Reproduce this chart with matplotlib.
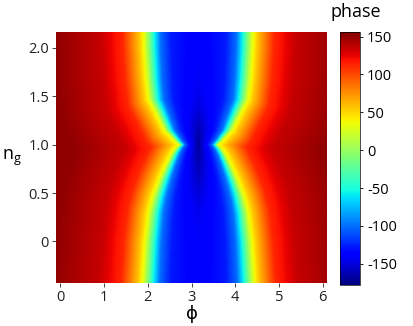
import numpy as np
import matplotlib
matplotlib.use("Agg")
import matplotlib.pyplot as plt

plt.rcParams["font.family"] = ["Open Sans", "DejaVu Sans"]

# --- values ---
# n_g rows where the yellow (phase ~ 30) boundaries were read
NG_ROWS = [-0.43, 0.0, 0.3, 0.46, 0.64, 0.79, 0.9, 0.96, 1.0, 1.04, 1.1, 1.15, 1.26, 1.36, 1.47, 1.7, 2.0, 2.165]
LEFT_EDGE = [1.89, 1.95, 2.03, 2.12, 2.27, 2.42, 2.54, 2.63, 2.72, 2.62, 2.50, 2.39, 2.27, 2.16, 2.03, 1.97, 1.93, 1.92]
RIGHT_EDGE = [4.43, 4.37, 4.29, 4.20, 4.05, 3.90, 3.78, 3.69, 3.60, 3.70, 3.82, 3.93, 4.05, 4.16, 4.29, 4.35, 4.39, 4.40]
CENTER_PHASE = [-141, -142, -145, -150, -157, -163, -167, -169, -170, -169, -166, -163, -157, -151, -147, -143, -141, -140]

# phase outside the boundary (red side) vs distance in pixels
OUTER_D = [0, 5, 11, 22, 44, 88]
OUTER_PHASE = [31, 55, 75, 112, 135, 150]
# inside (blue side), as fraction of the half width (1 = middle)
INNER_U = [0.0, 0.08, 0.18, 0.3, 0.5, 1.0]
INNER_PHASE = [31, -5, -53, -100, -128]

PHI_LIM = (-0.1, 6.1)
NG_LIM = (-0.43, 2.165)
VMIN, VMAX = -178, 156

X_TICKS = [0, 1, 2, 3, 4, 5, 6]
Y_TICKS = [0, 0.5, 1.0, 1.5, 2.0]
Y_TICK_LABELS = ["0", "0.5", "1.0", "1.5", "2.0"]
CB_TICKS = [-150, -100, -50, 0, 50, 100, 150]

# --- build the map ---
KX, KY = 44.0, 96.7  # pixels per unit of phi / n_g in the picture
phi = np.linspace(PHI_LIM[0], PHI_LIM[1], 520)
ng = np.linspace(NG_LIM[0], NG_LIM[1], 420)
Ls = np.interp(ng, NG_ROWS, LEFT_EDGE)
Rs = np.interp(ng, NG_ROWS, RIGHT_EDGE)
Cs = np.interp(ng, NG_ROWS, CENTER_PHASE)

Z = np.zeros((len(ng), len(phi)))
for i, g in enumerate(ng):
    L, R, C = Ls[i], Rs[i], Cs[i]
    half = (R - L) / 2
    mid = (L + R) / 2
    dy2 = ((g - ng) * KY) ** 2
    dl = np.sqrt(((phi[:, None] - Ls[None, :]) * KX) ** 2 + dy2[None, :]).min(axis=1)
    dr = np.sqrt(((phi[:, None] - Rs[None, :]) * KX) ** 2 + dy2[None, :]).min(axis=1)
    row = np.empty_like(phi)
    left = phi < L
    right = phi > R
    inside = ~(left | right)
    row[left] = np.interp(dl[left], OUTER_D, OUTER_PHASE)
    row[right] = np.interp(dr[right], OUTER_D, OUTER_PHASE)
    u = (half - np.abs(phi - mid)) / half
    row[inside] = np.interp(u[inside], INNER_U, INNER_PHASE + [C])
    Z[i] = row

fig = plt.figure(figsize=(4.14, 3.26), dpi=100)
ax = fig.add_axes([56 / 414, 1 - 283 / 326, 271 / 414, 251 / 326])
im = ax.imshow(Z, origin="lower", extent=[*PHI_LIM, *NG_LIM], aspect="auto",
               cmap="jet", vmin=VMIN, vmax=VMAX, interpolation="bilinear")
ax.set_xlim(*PHI_LIM)
ax.set_ylim(*NG_LIM)
ax.set_xticks(X_TICKS)
ax.set_yticks(Y_TICKS)
ax.set_yticklabels(Y_TICK_LABELS)
ax.tick_params(direction="out", length=3, width=0.6, labelsize=10.5, pad=2, colors="#222222")
for sp in ax.spines.values():
    sp.set_visible(False)
ax.set_xlabel("ϕ", fontsize=13, labelpad=0)
ax.set_ylabel(r"n$_\mathregular{g}$", fontsize=13, rotation=0, labelpad=12, va="center")

cax = fig.add_axes([340 / 414, 1 - 285 / 326, 20 / 414, 253 / 326])
cb = fig.colorbar(im, cax=cax, ticks=CB_TICKS)
cb.outline.set_linewidth(0.5)
cb.ax.tick_params(direction="out", length=2, width=0.6, labelsize=10.5, pad=3)
cb.ax.set_yticklabels([str(t) for t in CB_TICKS])
fig.text(356 / 414, 1 - 12 / 326, "phase", fontsize=13, ha="center", va="center")

fig.savefig("out.png", dpi=100)
